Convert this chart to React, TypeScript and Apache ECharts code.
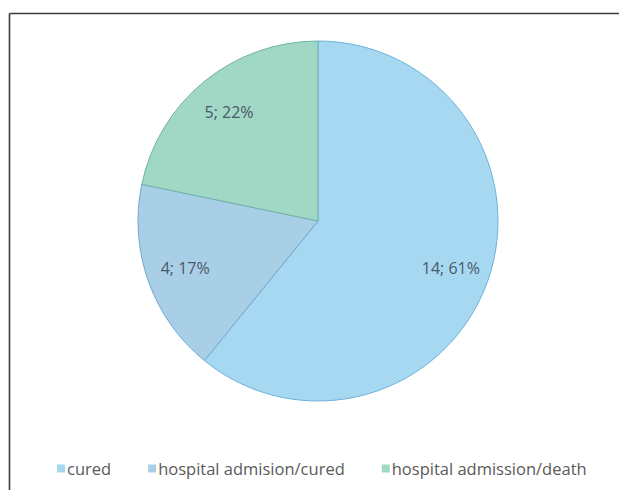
import React, { useEffect, useRef } from "react";
import * as echarts from "echarts";

const categories = ["cured", "hospital admision/cured", "hospital admission/death"];
const counts = [14, 4, 5];
const percents = [61, 17, 22];
const fills = ["#a6d8f2", "#a9cfe6", "#a0d7c5"];
const edges = ["#6fb2db", "#6fa9cf", "#6fb3a8"];

export default function App() {
  const ref = useRef<HTMLDivElement>(null);

  useEffect(() => {
    if (!ref.current) return;
    document.documentElement.style.overflow = "hidden";
    document.body.style.overflow = "hidden";
    const chart = echarts.init(ref.current, undefined, { renderer: "svg" });

    const data = categories.map((name, i) => ({
      name,
      value: counts[i],
      pct: percents[i],
      itemStyle: { color: fills[i], borderColor: edges[i], borderWidth: 1 },
    }));

    const frameStyle = { stroke: "#3c3c3c", lineWidth: 1.6 };

    chart.setOption({
      animation: false,
      backgroundColor: "#ffffff",
      graphic: [
        {
          // frame: left edge
          type: "line",
          shape: { x1: 9.5, y1: 13.5, x2: 9.5, y2: 490 },
          style: frameStyle,
          silent: true,
        },
        {
          // frame: top edge
          type: "line",
          shape: { x1: 9.5, y1: 13.5, x2: 619, y2: 13.5 },
          style: frameStyle,
          silent: true,
        },
      ],
      legend: {
        data: categories,
        left: 52,
        top: 455,
        itemWidth: 8,
        itemHeight: 8,
        itemGap: 37,
        icon: "rect",
        itemStyle: { borderWidth: 0 },
        textStyle: {
          fontFamily: "Open Sans",
          fontSize: 16.5,
          color: "#5a5a5a",
          padding: [0, 0, 0, -3],
        },
      },
      series: [
        {
          type: "pie",
          center: [318, 221],
          radius: [0, 180],
          startAngle: 90,
          clockwise: true,
          label: { show: false },
          labelLine: { show: false },
          emphasis: { disabled: true },
          data,
        },
        {
          // label ring: places the value text at ~77% of the radius
          type: "pie",
          center: [318, 221],
          radius: [96, 180],
          startAngle: 90,
          clockwise: true,
          silent: true,
          legendHoverLink: false,
          itemStyle: { color: "rgba(0,0,0,0)", borderWidth: 0 },
          label: {
            show: true,
            position: "inside",
            fontFamily: "Open Sans",
            fontSize: 16,
            color: "#4a5868",
            formatter: (p: any) => `${p.value}; ${p.data.pct}%`,
          },
          labelLine: { show: false },
          emphasis: { disabled: true },
          data: categories.map((name, i) => ({ name: name + " ", value: counts[i], pct: percents[i] })),
        },
      ],
    });

    return () => chart.dispose();
  }, []);

  return (
    <div
      ref={ref}
      style={{ position: "absolute", left: 0, top: 0, width: 619, height: 490 }}
    />
  );
}
